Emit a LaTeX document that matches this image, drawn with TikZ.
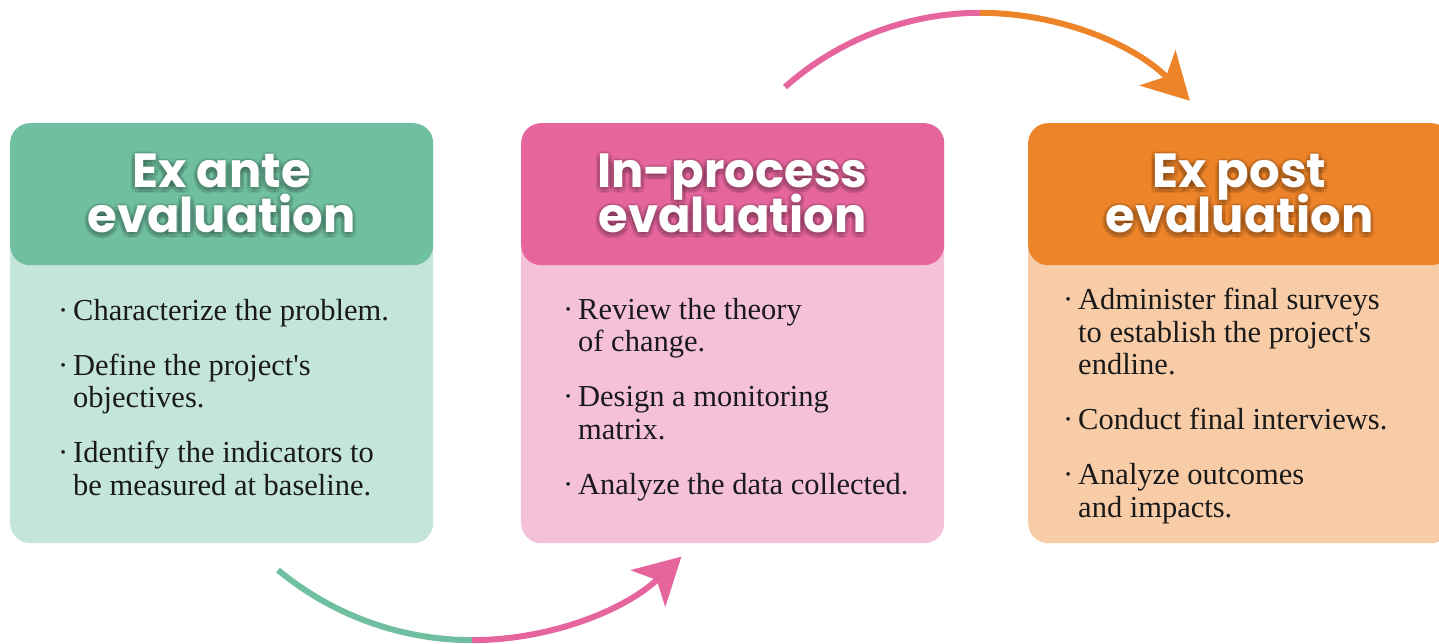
\documentclass[tikz,border=0pt]{standalone}
\usepackage{fontspec}
\setmainfont{Liberation Serif}
\newfontfamily\headfont{Poppins}
\usetikzlibrary{arrows.meta}

\definecolor{antegreen}{HTML}{6FBFA0}
\definecolor{antegreenlt}{HTML}{C4E5DA}
\definecolor{procpink}{HTML}{E6659D}
\definecolor{procpinklt}{HTML}{F5C1D9}
\definecolor{postorange}{HTML}{EE8429}
\definecolor{postorangelt}{HTML}{F8CCA7}
\definecolor{inkblack}{HTML}{1A1A1A}

% hanging bullet in front of each item
\newcommand{\itm}{\llap{\textperiodcentered\hspace{5pt}}}
% title font, fixed line distance
\newcommand{\titlefont}{\headfont\bfseries\fontsize{48}{45}\selectfont\lineskiplimit-100pt\relax}

\tikzset{
  cardbody/.style={rectangle, rounded corners=20pt, minimum width=423, minimum height=420, anchor=north west, inner sep=0pt},
  cardhead/.style={rectangle, rounded corners=20pt, minimum width=423, minimum height=142, anchor=north west, inner sep=0pt},
  headtext/.style={font=\titlefont, align=center, text=white, inner sep=0pt, anchor=south},
  glowtext/.style={headtext, text=black, text opacity=0.08},
  bodytext/.style={font=\fontsize{30.5}{32.5}\selectfont, align=left, anchor=north west, inner sep=0pt, text=inkblack},
  flow/.style={line width=6pt},
  flowtip/.style={-{Stealth[length=46pt, width=50pt, inset=12pt]}}
}

\begin{document}
\begin{tikzpicture}[x=1pt, y=1pt]
\useasboundingbox (0,0) rectangle (1439,643);

% the three cards with their headers
\foreach \x/\name/\dark/\light/\title in {
    10/exante/antegreen/antegreenlt/{Ex ante\\evaluation},
    521/inproc/procpink/procpinklt/{In-process\\evaluation},
    1028/expost/postorange/postorangelt/{Ex post\\evaluation}} {
    \node[cardbody, fill=\light] (\name) at (\x,520) {};
    \node[cardhead, fill=\dark] (\name-head) at (\x,520) {};
    % soft shadow under the title
    \foreach \a in {0,45,...,315} {
        \node[glowtext] (\name-glow-\a) at ({\x+211.5+4*cos(\a)},{408+4*sin(\a)}) {\title};
    }
    \node[headtext] (\name-title) at (\x+211.5,410) {\title};
}

% item lists
\node[bodytext] (exante-text) at (73,344) {\itm Characterize the problem.\\[22.5pt]
    \itm Define the project\textquotesingle s\\objectives.\\[22.5pt]
    \itm Identify the indicators to\\be measured at baseline.};
\node[bodytext] (inproc-text) at (578,345) {\itm Review the theory\\of change.\\[22.5pt]
    \itm Design a monitoring\\matrix.\\[22.5pt]
    \itm Analyze the data collected.};
\node[bodytext] (expost-text) at (1078,355) {\itm Administer final surveys\\to establish the project\textquotesingle s\\endline.\\[22.5pt]
    \itm Conduct final interviews.\\[22.5pt]
    \itm Analyze outcomes\\and impacts.};

% curved arrows between the stages
\coordinate (low-start) at (278,73);
\draw[flow, antegreen] (low-start) arc[start angle=230.3, end angle=270, radius=304] coordinate (low-mid);
\draw[flow, procpink, flowtip] (low-mid) arc[start angle=270, end angle=313.5, radius=304];

\coordinate (up-start) at (785,556);
\draw[flow, procpink] (up-start) arc[start angle=131.6, end angle=90, radius=294] coordinate (up-mid);
\draw[flow, postorange, flowtip] (up-mid) arc[start angle=90, end angle=44.5, radius=294];

\end{tikzpicture}
\end{document}
